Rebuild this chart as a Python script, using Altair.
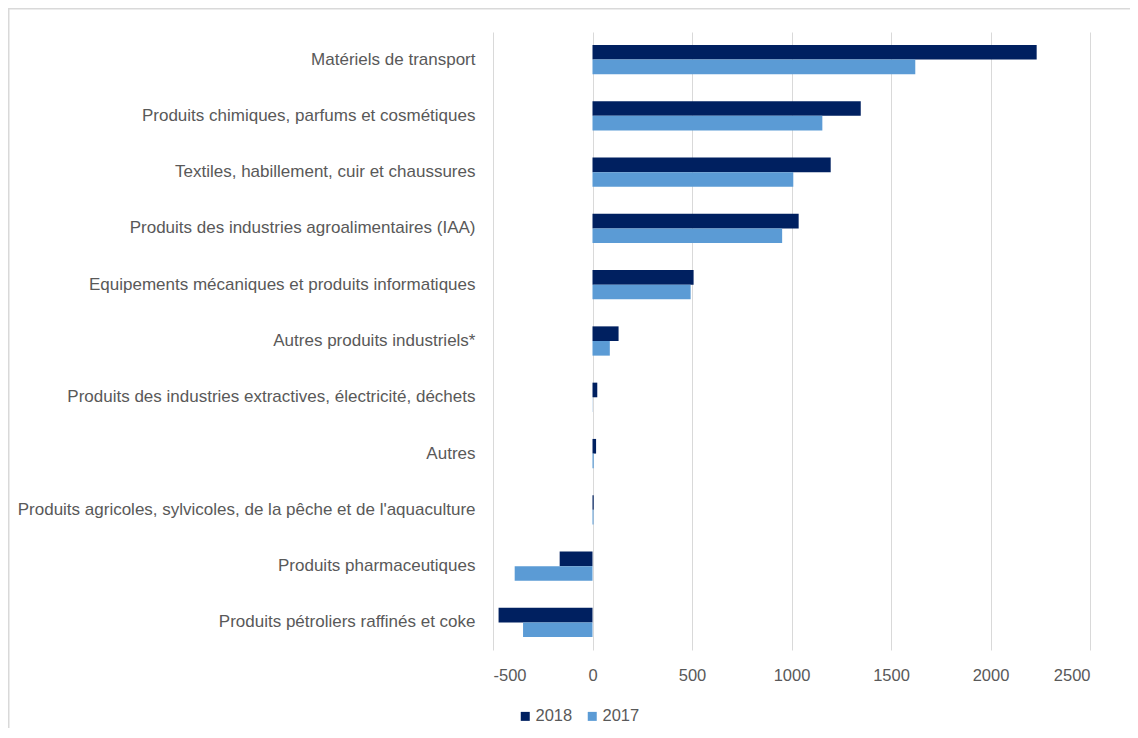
import altair as alt
import pandas as pd

categories = [
    "Matériels de transport",
    "Produits chimiques, parfums et cosmétiques",
    "Textiles, habillement, cuir et chaussures",
    "Produits des industries agroalimentaires (IAA)",
    "Equipements mécaniques et produits informatiques",
    "Autres produits industriels*",
    "Produits des industries extractives, électricité, déchets",
    "Autres",
    "Produits agricoles, sylvicoles, de la pêche et de l'aquaculture",
    "Produits pharmaceutiques",
    "Produits pétroliers raffinés et coke",
]
values_2018 = [2232, 1348, 1197, 1036, 508, 131, 24, 18, 6, -165, -472]
values_2017 = [1622, 1155, 1009, 953, 493, 87, 1, 6, 5, -391, -349]
years = ["2018", "2017"]
x_ticks = [-500, 0, 500, 1000, 1500, 2000, 2500]

rows = []
for c, a, b in zip(categories, values_2018, values_2017):
    rows.append({"cat": c, "year": "2018", "value": a})
    rows.append({"cat": c, "year": "2017", "value": b})
df = pd.DataFrame(rows)

FONT = "Liberation Sans"
TXT = "#595959"
W, H = 597, 618
PAD = {"left": 485, "top": 24, "right": 40, "bottom": 78}
TOTAL_W = PAD["left"] + W + PAD["right"]
TOTAL_H = PAD["top"] + H + PAD["bottom"]

bars = alt.Chart(df).mark_bar().encode(
    x=alt.X(
        "value:Q",
        scale=alt.Scale(domain=[-500, 2500], nice=False, zero=False),
        axis=alt.Axis(
            values=x_ticks, title=None, grid=True, gridColor="#d9d9d9",
            domain=False, ticks=False, labelFont=FONT, labelFontSize=16.5,
            labelColor=TXT, labelPadding=17, labelExpr="toString(datum.value)",
        ),
    ),
    y=alt.Y(
        "cat:N", sort=categories,
        scale=alt.Scale(paddingInner=0.48, paddingOuter=0.23),
        axis=alt.Axis(
            title=None, domain=False, ticks=False, grid=False, labelFont=FONT,
            labelFontSize=17, labelColor=TXT, labelPadding=18, labelLimit=600,
        ),
    ),
    yOffset=alt.YOffset("year:N", sort=years, scale=alt.Scale(paddingInner=0, paddingOuter=0)),
    color=alt.Color(
        "year:N",
        scale=alt.Scale(domain=years, range=["#002060", "#5B9BD5"]),
        legend=alt.Legend(
            title=None, orient="none", legendX=24, legendY=676, direction="horizontal",
            symbolType="square", symbolSize=81, symbolStrokeWidth=0,
            labelFont=FONT, labelFontSize=16.5, labelColor=TXT,
            labelOffset=2, columnPadding=11, padding=0,
        ),
    ),
)

frame_data = alt.Data(values=[{"k": 1}])
top_rule = alt.Chart(frame_data).mark_rule(color="#d9d9d9", strokeWidth=1.5).encode(
    x=alt.value(-PAD["left"]), x2=alt.value(TOTAL_W - PAD["left"]),
    y=alt.value(-PAD["top"] + 0.75),
)
left_rule = alt.Chart(frame_data).mark_rule(color="#d9d9d9", strokeWidth=1.5).encode(
    x=alt.value(-PAD["left"] + 0.75),
    y=alt.value(-PAD["top"]), y2=alt.value(TOTAL_H - PAD["top"]),
)

chart = alt.layer(bars, top_rule, left_rule).properties(
    width=W, height=H, padding=PAD,
    autosize=alt.AutoSizeParams(type="none"),
    background="white",
).configure_view(stroke=None)

chart.save("out.html", embed_options={"renderer": "svg", "actions": False})
